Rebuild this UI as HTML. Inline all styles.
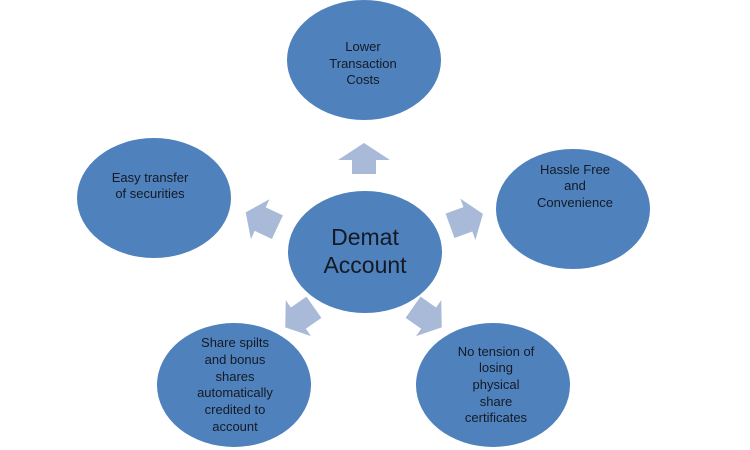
<!DOCTYPE html>
<html><head><meta charset="utf-8"><style>
html,body{margin:0;padding:0;background:#fff;}
svg{display:block;}
text{font-family:"Liberation Sans",sans-serif;fill:#141a24;text-anchor:middle;}
.s{font-size:13px;}
</style></head><body>
<svg width="750" height="450" viewBox="0 0 750 450">
<defs>
<path id="ar" d="M15,0 L-2,-26 L-2,-12 L-16,-12 L-16,12 L-2,12 L-2,26 Z" fill="#a9bad8"/>
<path id="ar2" d="M18,0 L2,-22 L2,-13 L-17,-13 L-17,13 L2,13 L2,22 Z" fill="#a9bad8"/>
</defs>
<g fill="#4f81bd">
<ellipse cx="364" cy="60" rx="77" ry="60"/>
<ellipse cx="573" cy="209" rx="77" ry="60"/>
<ellipse cx="154" cy="198" rx="77" ry="60"/>
<ellipse cx="234" cy="385" rx="77" ry="62"/>
<ellipse cx="493" cy="385" rx="77" ry="62"/>
<ellipse cx="365" cy="252" rx="77" ry="61"/>
</g>
<use href="#ar" transform="translate(364,158) rotate(-90)"/>
<use href="#ar2" transform="translate(466,220) rotate(-20)"/>
<use href="#ar2" transform="translate(262,220) rotate(205)"/>
<use href="#ar2" transform="translate(300,317) rotate(145)"/>
<use href="#ar2" transform="translate(427,317) rotate(35)"/>
<g class="s">
<text x="363" y="51">Lower</text>
<text x="363" y="68">Transaction</text>
<text x="363" y="84">Costs</text>
<text x="575" y="174">Hassle Free</text>
<text x="575" y="190">and</text>
<text x="575" y="207">Convenience</text>
<text x="150" y="182">Easy transfer</text>
<text x="150" y="198">of securities</text>
<text x="235" y="347">Share spilts</text>
<text x="235" y="364">and bonus</text>
<text x="235" y="381">shares</text>
<text x="235" y="397">automatically</text>
<text x="235" y="414">credited to</text>
<text x="235" y="431">account</text>
<text x="496" y="356">No tension of</text>
<text x="496" y="372">losing</text>
<text x="496" y="389">physical</text>
<text x="496" y="406">share</text>
<text x="496" y="422">certificates</text>
</g>
<text x="365" y="245" style="font-size:23px">Demat</text>
<text x="365" y="273" style="font-size:23px">Account</text>
</svg>
</body></html>
